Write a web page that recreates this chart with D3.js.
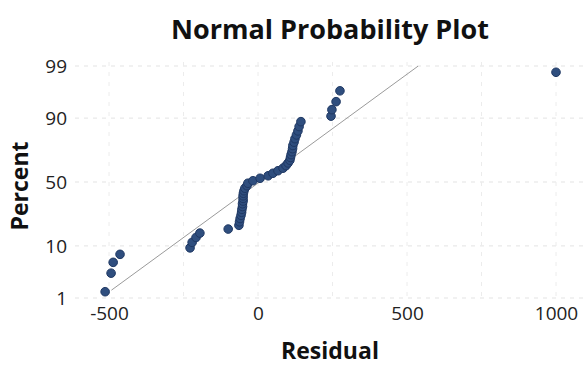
<!DOCTYPE html>
<html><head><meta charset="utf-8">
<script src="https://cdn.jsdelivr.net/npm/d3@7"></script>
<style>body{margin:0;background:#fff}svg{display:block}</style>
</head><body>
<svg id="c" width="583" height="366"></svg>
<script>
// Residuals, sorted
const residuals = [-513,-493,-486,-463,-228,-221,-208,-195,-100,-64,-62,-60,-57,-55,-54,-52,-52,-50,-50,-50,-49,-47,-44,-37,-34,-17,7,34,50,67,84,94,101,107,109,111,114,116,117,121,124,129,134,138,144,245,248,262,275,1000];
const xTicks = [-500, 0, 500, 1000];
const xGrid = [-500, -250, 0, 250, 500, 750, 1000];
const yTicks = [1, 10, 50, 90, 99];
const fitMean = 5;
const fitSd = 229;
const fitRange = [1.5, 99];

function probit(p){
  const a=[-3.969683028665376e+01,2.209460984245205e+02,-2.759285104469687e+02,1.383577518672690e+02,-3.066479806614716e+01,2.506628277459239e+00];
  const b=[-5.447609879822406e+01,1.615858368580409e+02,-1.556989798598866e+02,6.680131188771972e+01,-1.328068155288572e+01];
  const c=[-7.784894002430293e-03,-3.223964580411365e-01,-2.400758277161838e+00,-2.549671010243250e+00,4.374664141464968e+00,2.938163982698783e+00];
  const d=[7.784695709041462e-03,3.224671290700398e-01,2.445134137142996e+00,3.754408661907416e+00];
  const pl=0.02425;
  let q,r;
  if(p<pl){q=Math.sqrt(-2*Math.log(p));return (((((c[0]*q+c[1])*q+c[2])*q+c[3])*q+c[4])*q+c[5])/((((d[0]*q+d[1])*q+d[2])*q+d[3])*q+1);}
  if(p<=1-pl){q=p-0.5;r=q*q;return (((((a[0]*r+a[1])*r+a[2])*r+a[3])*r+a[4])*r+a[5])*q/(((((b[0]*r+b[1])*r+b[2])*r+b[3])*r+b[4])*r+1);}
  q=Math.sqrt(-2*Math.log(1-p));return -(((((c[0]*q+c[1])*q+c[2])*q+c[3])*q+c[4])*q+c[5])/((((d[0]*q+d[1])*q+d[2])*q+d[3])*q+1);
}

const svg = d3.select("#c");
const pLeft = 75, pRight = 583, pTop = 62, pBottom = 302;
const x = d3.scaleLinear().domain([-500, 1000]).range([109, 556]);
const yz = d3.scaleLinear().domain([probit(0.01), probit(0.99)]).range([298, 66]);
const y = pct => yz(probit(pct/100));
const n = residuals.length;
const pts = residuals.map((v,i)=>({v, p: (i+1-0.3)/(n+0.4)*100}));

const font = "'Open Sans', 'Noto Sans', sans-serif";

// grid
const g = svg.append("g");
g.selectAll("line.hg").data(yTicks).join("line")
  .attr("x1", pLeft).attr("x2", pRight)
  .attr("y1", d=>y(d)).attr("y2", d=>y(d))
  .attr("stroke", "#e3e3e3").attr("stroke-width", 1).attr("stroke-dasharray", "4,5");
g.selectAll("line.vg").data(xGrid).join("line")
  .attr("x1", d=>x(d)).attr("x2", d=>x(d))
  .attr("y1", pTop).attr("y2", pBottom)
  .attr("stroke", "#ececec").attr("stroke-width", 1).attr("stroke-dasharray", "4,6");

// clip
svg.append("clipPath").attr("id","clip").append("rect")
  .attr("x", pLeft).attr("y", 66).attr("width", pRight-pLeft).attr("height", pBottom-66);

// fit line
const fitPts = fitRange.map(p=>({p, v: fitMean + fitSd*probit(p/100)}));
svg.append("path").attr("clip-path","url(#clip)")
  .attr("d", d3.line().x(d=>x(d.v)).y(d=>y(d.p))(fitPts))
  .attr("fill","none").attr("stroke","#9a9a9a").attr("stroke-width",1);

// points
svg.append("g").selectAll("circle").data(pts).join("circle")
  .attr("cx", d=>x(d.v)).attr("cy", d=>y(d.p)).attr("r", 4.3)
  .attr("fill", "#2f4e7e").attr("stroke", "#1f3863").attr("stroke-width", 1);

// axes
const xAxis = d3.axisBottom(x).tickValues(xTicks).tickSize(0).tickPadding(0).tickFormat(d=>String(d));
const xa = svg.append("g").attr("transform", "translate(0,306)").call(xAxis);
xa.select(".domain").remove();
xa.selectAll("text").attr("font-family", font).attr("font-size", 19).attr("fill", "#222").attr("dy", "0.71em");

const yAxis = d3.axisLeft(yz).tickValues(yTicks.map(p=>probit(p/100))).tickSize(0).tickPadding(0)
  .tickFormat((d,i)=>yTicks[i]);
const ya = svg.append("g").attr("transform", "translate(67,0)").call(yAxis);
ya.select(".domain").remove();
ya.selectAll("text").attr("font-family", font).attr("font-size", 19).attr("fill", "#222").attr("dy", "0.36em");

// titles
svg.append("text").attr("x", 330).attr("y", 39).attr("text-anchor","middle")
  .attr("font-family", font).attr("font-weight","bold").attr("font-size", 27).attr("fill","#111")
  .text("Normal Probability Plot");
svg.append("text").attr("x", 330).attr("y", 359).attr("text-anchor","middle")
  .attr("font-family", font).attr("font-weight","bold").attr("font-size", 23).attr("fill","#111")
  .text("Residual");
svg.append("text").attr("transform","translate(28,186) rotate(-90)").attr("text-anchor","middle")
  .attr("font-family", font).attr("font-weight","bold").attr("font-size", 23).attr("fill","#111")
  .text("Percent");
</script>
</body></html>
